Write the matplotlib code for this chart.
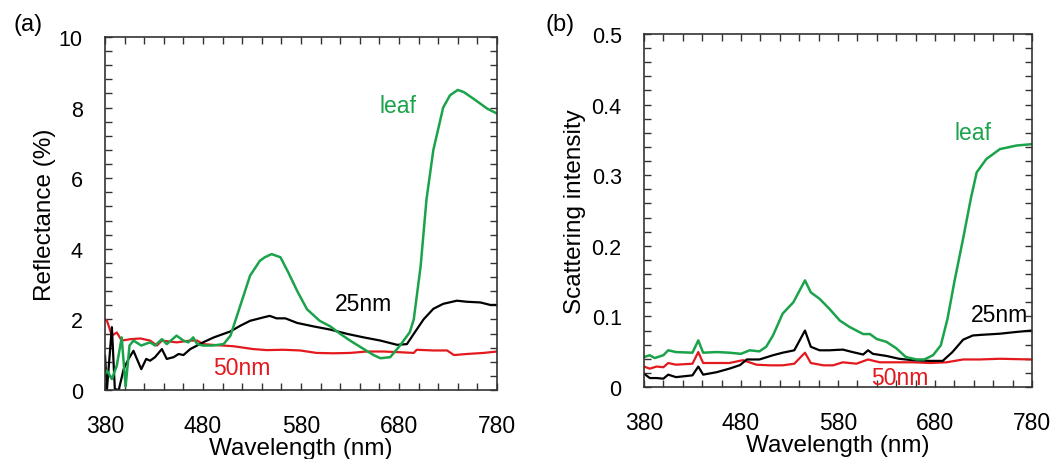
import matplotlib
matplotlib.use("Agg")
import matplotlib.pyplot as plt
from matplotlib.ticker import MultipleLocator, FixedLocator

plt.rcParams['font.family'] = ['Liberation Sans', 'DejaVu Sans']

GREEN = '#1aa34a'
RED = '#e3191e'

# ---- (a) reflectance (%) ----
a_leaf_x = [380, 382, 387, 392, 397, 401, 405, 409, 417, 426, 431, 438, 443, 453, 460, 465, 470,
            474, 480, 490, 501, 508, 518, 528, 538, 543, 550, 559, 567, 576, 586, 599, 610, 620,
            630, 644, 654, 661, 671, 681, 691, 695, 702, 708, 715, 725, 732, 740, 746, 756, 770,
            780]
a_leaf_y = [0.45, 0.55, 0.31, 0.69, 1.49, 0.1, 1.26, 1.4, 1.26, 1.35, 1.26, 1.44, 1.3, 1.54, 1.4,
            1.35, 1.49, 1.3, 1.26, 1.26, 1.3, 1.54, 2.39, 3.24, 3.66, 3.76, 3.85, 3.76, 3.33, 2.81,
            2.29, 1.96, 1.8, 1.59, 1.4, 1.16, 0.99, 0.9, 0.93, 1.26, 1.64, 2.0, 3.5, 5.4, 6.8, 8.0,
            8.35, 8.5, 8.44, 8.25, 7.97, 7.83]

a_25_x = [380, 382, 387, 390, 394, 399, 404, 409, 417, 422, 426, 431, 438, 443, 450, 455, 460,
          467, 474, 480, 491, 501, 508, 518, 528, 542, 548, 555, 564, 576, 593, 610, 627, 644,
          661, 678, 688, 695, 705, 715, 725, 739, 749, 763, 773, 780]
a_25_y = [0.97, 0.03, 1.78, 0.03, 0.0, 0.59, 0.88, 1.11, 0.59, 0.88, 0.83, 0.93, 1.16, 0.88, 0.93,
          1.02, 0.99, 1.16, 1.26, 1.35, 1.49, 1.59, 1.66, 1.82, 1.96, 2.06, 2.1, 2.03, 2.03, 1.9,
          1.8, 1.71, 1.59, 1.49, 1.4, 1.28, 1.3, 1.59, 2.0, 2.3, 2.44, 2.53, 2.5, 2.48, 2.41, 2.41]

a_50_x = [380, 382, 387, 392, 397, 406, 416, 426, 433, 438, 453, 467, 474, 480, 494, 511, 531,
          545, 562, 579, 596, 613, 630, 647, 664, 681, 695, 698, 715, 729, 736, 749, 766, 780]
a_50_y = [2.0, 1.96, 1.54, 1.63, 1.4, 1.44, 1.46, 1.4, 1.26, 1.4, 1.35, 1.4, 1.4, 1.3, 1.27, 1.24,
          1.16, 1.13, 1.14, 1.12, 1.05, 1.04, 1.05, 1.09, 1.09, 1.07, 1.05, 1.14, 1.12, 1.12, 0.99,
          1.02, 1.05, 1.09]

# ---- (b) scattering intensity ----
b_leaf_x = [380, 386, 391, 400, 405, 413, 430, 436, 441, 455, 468, 480, 489, 499, 506, 513, 523,
            534, 546, 552, 561, 571, 582, 592, 606, 613, 620, 630, 640, 650, 661, 669, 678, 686,
            693, 700, 709, 717, 723, 733, 747, 764, 780]
b_leaf_y = [0.0425, 0.045, 0.041, 0.045, 0.052, 0.0495, 0.0486, 0.066, 0.0486, 0.0495, 0.0486,
            0.047, 0.052, 0.0505, 0.057, 0.073, 0.104, 0.12, 0.151, 0.134, 0.125, 0.111, 0.094,
            0.085, 0.075, 0.075, 0.068, 0.064, 0.055, 0.0425, 0.039, 0.039, 0.045, 0.059, 0.097,
            0.149, 0.21, 0.267, 0.304, 0.323, 0.337, 0.342, 0.344]

b_25_x = [380, 386, 393, 400, 405, 413, 430, 436, 441, 455, 468, 479, 486, 499, 513, 523, 535,
          546, 552, 561, 571, 585, 595, 606, 611, 616, 630, 643, 657, 674, 688, 698, 709, 719,
          729, 747, 764, 780]
b_25_y = [0.019, 0.0127, 0.0127, 0.0118, 0.0175, 0.014, 0.0165, 0.029, 0.0175, 0.021, 0.026,
          0.031, 0.039, 0.039, 0.045, 0.0486, 0.052, 0.080, 0.057, 0.052, 0.052, 0.053, 0.0495,
          0.046, 0.052, 0.047, 0.044, 0.040, 0.038, 0.037, 0.037, 0.0495, 0.067, 0.073, 0.074,
          0.0755, 0.078, 0.080]

b_50_x = [380, 386, 393, 400, 405, 413, 430, 436, 441, 455, 468, 482, 496, 510, 523, 535, 546,
          552, 565, 575, 585, 599, 611, 623, 640, 657, 675, 692, 709, 726, 747, 780]
b_50_y = [0.029, 0.026, 0.029, 0.028, 0.034, 0.0316, 0.033, 0.0495, 0.034, 0.034, 0.034, 0.038,
          0.0316, 0.0307, 0.0307, 0.033, 0.0486, 0.034, 0.0307, 0.0307, 0.035, 0.033, 0.039,
          0.035, 0.035, 0.035, 0.034, 0.035, 0.039, 0.039, 0.040, 0.039]

x_major = [380, 480, 580, 680, 780]
x_minor = list(range(380, 781, 20))


def style_axes(ax, ymax, ymajor, yminor):
    ax.set_xlim(380, 780)
    ax.set_ylim(0, ymax)
    ax.xaxis.set_major_locator(FixedLocator(x_major))
    ax.xaxis.set_minor_locator(FixedLocator(x_minor))
    ax.yaxis.set_major_locator(MultipleLocator(ymajor))
    ax.yaxis.set_minor_locator(MultipleLocator(yminor))
    ax.tick_params(which='both', direction='in', top=True, right=True,
                   length=5, width=1, color='#333333')
    ax.tick_params(axis='x', which='major', labelsize=16.5, pad=17)
    ax.tick_params(axis='y', which='major', labelsize=15.5, pad=16)
    for s in ax.spines.values():
        s.set_linewidth(1.2)
        s.set_color('#333333')
    ax.set_xlabel('Wavelength (nm)', fontsize=17.5, labelpad=0.5)


fig = plt.figure(figsize=(10.63, 4.6), dpi=100)

ax1 = fig.add_axes([0.0988, 0.15, 0.3688, 0.7674])
ax1.plot(a_50_x, a_50_y, color=RED, lw=1.6)
ax1.plot(a_25_x, a_25_y, color='black', lw=1.6)
ax1.plot(a_leaf_x, a_leaf_y, color=GREEN, lw=1.8)
style_axes(ax1, 10, 2, 0.4)
ax1.set_ylabel('Reflectance (%)', fontsize=17.5, labelpad=2)
ax1.text(679, 8.05, 'leaf', color=GREEN, fontsize=16.5, ha='center', va='center')
ax1.text(644, 2.44, '25nm', color='black', fontsize=16.5, ha='center', va='center')
ax1.text(520, 0.65, '50nm', color=RED, fontsize=16.5, ha='center', va='center')
fig.text(28 / 1063, 1 - 25 / 460, '(a)', fontsize=17, ha='center', va='center')

ax2 = fig.add_axes([0.6058, 0.1565, 0.365, 0.7674])
ax2.plot(b_50_x, b_50_y, color=RED, lw=1.6)
ax2.plot(b_25_x, b_25_y, color='black', lw=1.6)
ax2.plot(b_leaf_x, b_leaf_y, color=GREEN, lw=1.8)
style_axes(ax2, 0.5, 0.1, 0.02)
ax2.yaxis.set_major_formatter(plt.FuncFormatter(lambda v, p: '0' if v == 0 else f'{v:.1f}'))
ax2.set_ylabel('Scattering intensity', fontsize=17.5, labelpad=4)
ax2.text(719, 0.361, 'leaf', color=GREEN, fontsize=16.5, ha='center', va='center')
ax2.text(747, 0.103, '25nm', color='black', fontsize=16.5, ha='center', va='center')
ax2.text(644, 0.014, '50nm', color=RED, fontsize=16.5, ha='center', va='center')
fig.text(560 / 1063, 1 - 25 / 460, '(b)', fontsize=17, ha='center', va='center')

fig.savefig('out.png', dpi=100)
